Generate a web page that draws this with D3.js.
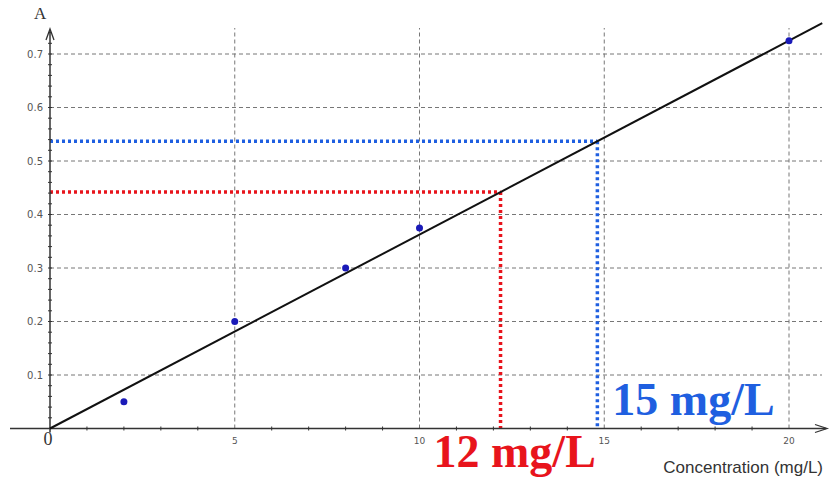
<!DOCTYPE html>
<html>
<head>
<meta charset="utf-8">
<script src="https://cdn.jsdelivr.net/npm/d3@7"></script>
<style>
  body { margin: 0; background: #fff; }
  svg { display: block; }
</style>
</head>
<body>
<script>
// Calibration data (concentration in mg/L, absorbance A)
const concentrations = [2, 5, 8, 10, 20];
const absorbances = [0.05, 0.2, 0.3, 0.375, 0.725];
const xTicks = [5, 10, 15, 20];
const yTicks = [0.1, 0.2, 0.3, 0.4, 0.5, 0.6, 0.7];
const slope = 0.03625;
const fitRange = [0, 20.9];
// read-off values
const readA = [0.442, 0.537];
const readLabels = ["12 mg/L", "15 mg/L"];
const readColors = ["#e8141c", "#1f5fe0"];

const W = 836, H = 481;
const x = d3.scaleLinear().domain([0, 20]).range([50, 789]);
const y = d3.scaleLinear().domain([0, 0.7]).range([428.5, 54]);

const svg = d3.select("body").append("svg").attr("width", W).attr("height", H);

// grid
const grid = svg.append("g").attr("stroke", "#777").attr("stroke-width", 1).attr("stroke-dasharray", "4,3");
grid.selectAll(".gy").data(yTicks).enter().append("line")
  .attr("x1", x(0)).attr("x2", 822)
  .attr("y1", d => y(d)).attr("y2", d => y(d));
grid.selectAll(".gx").data(xTicks).enter().append("line")
  .attr("x1", d => x(d)).attr("x2", d => x(d))
  .attr("y1", y(0)).attr("y2", 28);

// reading guides
readA.forEach((a, i) => {
  const c = a / slope;
  const g = svg.append("g").attr("stroke", readColors[i]).attr("stroke-width", 3.5)
    .attr("stroke-dasharray", "3,3").attr("fill", "none");
  g.append("line").attr("x1", x(0)).attr("x2", x(c)).attr("y1", y(a)).attr("y2", y(a));
  g.append("line").attr("x1", x(c)).attr("x2", x(c)).attr("y1", y(a)).attr("y2", y(0));
});

// axes
const axisColor = "#333";
svg.append("line").attr("x1", 10).attr("x2", 826).attr("y1", y(0)).attr("y2", y(0))
  .attr("stroke", axisColor).attr("stroke-width", 1.5);
svg.append("line").attr("x1", x(0)).attr("x2", x(0)).attr("y1", y(0) + 4).attr("y2", 30)
  .attr("stroke", axisColor).attr("stroke-width", 1.5);
// arrow heads
svg.append("path").attr("d", `M${x(0) - 4},${40} L${x(0)},${29} L${x(0) + 4},${40}`)
  .attr("fill", "none").attr("stroke", axisColor).attr("stroke-width", 1.3);
svg.append("path").attr("d", `M${815},${y(0) - 4} L${827},${y(0)} L${815},${y(0) + 4}`)
  .attr("fill", "none").attr("stroke", axisColor).attr("stroke-width", 1.3);

// minor ticks
const xMinor = d3.range(1, 21).filter(v => v % 5 !== 0);
svg.selectAll(".xm").data(xMinor).enter().append("line")
  .attr("x1", d => x(d)).attr("x2", d => x(d)).attr("y1", y(0) - 2).attr("y2", y(0) + 2)
  .attr("stroke", axisColor).attr("stroke-width", 1);
const yMinor = d3.range(1, 38).map(v => v * 0.02);
svg.selectAll(".ym").data(yMinor).enter().append("line")
  .attr("x1", x(0) - 2).attr("x2", x(0) + 2).attr("y1", d => y(d)).attr("y2", d => y(d))
  .attr("stroke", axisColor).attr("stroke-width", 1);

// tick labels
svg.selectAll(".yl").data(yTicks).enter().append("text")
  .attr("x", x(0) - 7).attr("y", d => y(d) + 3.5)
  .attr("text-anchor", "end").attr("font-family", "DejaVu Sans").attr("font-size", 10)
  .attr("fill", "#555").text(d => d.toFixed(1));
svg.selectAll(".xl").data(xTicks).enter().append("text")
  .attr("x", d => x(d)).attr("y", y(0) + 15)
  .attr("text-anchor", "middle").attr("font-family", "DejaVu Sans").attr("font-size", 9)
  .attr("fill", "#555").text(d => d);

svg.append("text").attr("x", x(0) - 2).attr("y", y(0) + 16).attr("text-anchor", "middle")
  .attr("font-family", "Liberation Serif").attr("font-size", 18).attr("fill", "#333").text("0");
svg.append("text").attr("x", 34).attr("y", 19)
  .attr("font-family", "Liberation Serif").attr("font-size", 17).attr("fill", "#333").text("A");
svg.append("text").attr("x", 823).attr("y", 473).attr("text-anchor", "end")
  .attr("font-family", "Liberation Sans").attr("font-size", 17).attr("fill", "#333")
  .text("Concentration (mg/L)");

// fit line
svg.append("line")
  .attr("x1", x(fitRange[0])).attr("y1", y(fitRange[0] * slope))
  .attr("x2", x(fitRange[1])).attr("y2", y(fitRange[1] * slope))
  .attr("stroke", "#111").attr("stroke-width", 2);

// data points
svg.selectAll(".pt").data(concentrations).enter().append("circle")
  .attr("cx", d => x(d)).attr("cy", (d, i) => y(absorbances[i]))
  .attr("r", 3.5).attr("fill", "#1a1ab8");

// reading labels
const labelPos = [{ dx: -67, y: 467 }, { dx: 15, y: 415 }];
readA.forEach((a, i) => {
  svg.append("text")
    .attr("x", x(a / slope) + labelPos[i].dx).attr("y", labelPos[i].y)
    .attr("font-family", "Liberation Serif").attr("font-weight", "bold").attr("font-size", 46)
    .attr("fill", readColors[i]).text(readLabels[i]);
});
</script>
</body>
</html>
